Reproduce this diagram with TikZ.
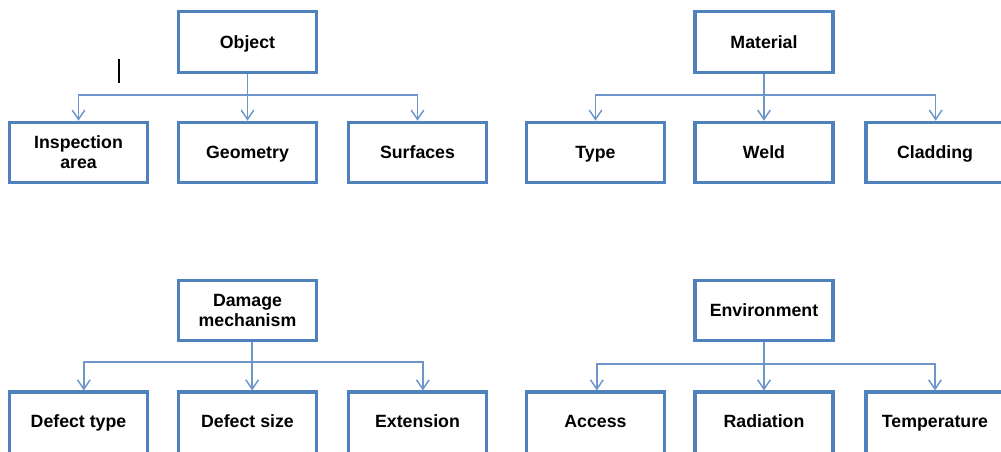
\documentclass[tikz,border=0pt]{standalone}
\usepackage{fontspec}
\setmainfont{Liberation Sans}
\usetikzlibrary{arrows.meta}
\definecolor{boxblue}{HTML}{4F81BD}
\definecolor{linkblue}{HTML}{6E96CB}
\tikzset{
  boxbase/.style={draw=boxblue, line width=2.3pt, fill=white, minimum width=103.5pt, minimum height=45.5pt,
    inner sep=1pt, align=center, font=\fontsize{13.3}{15}\selectfont\bfseries},
  box/.style={boxbase, text height=9.5pt, text depth=0pt},
  twobox/.style={boxbase},
  lowbox/.style={box, minimum height=48pt, text depth=4.5pt},
  link/.style={draw=linkblue, line width=1.1pt, -{Straight Barb[length=7pt,width=9.5pt,line width=1.1pt]}}
}
\begin{document}
\begin{tikzpicture}[x=0.75pt,y=-0.75pt]
\clip (0,0) rectangle (1001,452);
\fill[white] (0,0) rectangle (1001,452);
% top left
\node[box] (obj) at (247.5,42) {Object};
\node[twobox] (ia) at (78.5,152.5) {Inspection\\area};
\node[box] (geo) at (247.5,152.5) {Geometry};
\node[box] (sur) at (417.5,152.5) {Surfaces};
\coordinate (busA) at (0,95);
\draw[link] (obj.south) -- (obj.south |- busA) -| (ia.north);
\draw[link] (obj.south) -- (geo.north);
\draw[link] (obj.south) -- (obj.south |- busA) -| (sur.north);
% top right
\node[box] (mat) at (764,42) {Material};
\node[box] (typ) at (595.5,152.5) {Type};
\node[box] (wel) at (764,152.5) {Weld};
\node[box] (cla) at (935,152.5) {Cladding};
\coordinate (busB) at (0,95);
\draw[link] (mat.south) -- (mat.south |- busB) -| (typ.north);
\draw[link] (mat.south) -- (wel.north);
\draw[link] (mat.south) -- (mat.south |- busB) -| ([xshift=0.5pt]cla.north);
% bottom left
\node[twobox] (dam) at (247.5,310.5) {Damage\\mechanism};
\node[lowbox] (dty) at (78.5,424) {Defect type};
\node[lowbox] (dsz) at (247.5,424) {Defect size};
\node[lowbox] (ext) at (417.5,424) {Extension};
\coordinate (busC) at (0,362);
\draw[link] ([xshift=3.5pt]dam.south) -- ([xshift=3.5pt]dam.south |- busC) -| ([xshift=4pt]dty.north);
\draw[link] ([xshift=3.5pt]dam.south) -- ([xshift=3.5pt]dsz.north);
\draw[link] ([xshift=3.5pt]dam.south) -- ([xshift=3.5pt]dam.south |- busC) -| ([xshift=4pt]ext.north);
% bottom right
\node[box] (env) at (764,310.5) {Environment};
\node[lowbox] (acc) at (595.5,424) {Access};
\node[lowbox] (rad) at (764,424) {Radiation};
\node[lowbox] (tem) at (935,424) {Temperature};
\coordinate (busD) at (0,364);
\draw[link] (env.south) -- (env.south |- busD) -| ([xshift=1pt]acc.north);
\draw[link] (env.south) -- (rad.north);
\draw[link] (env.south) -- (env.south |- busD) -| (tem.north);
% stray cursor mark
\coordinate (curTop) at (119,59);
\coordinate (curBot) at (119,83);
\draw[black, line width=1.5pt] (curTop) -- (curBot);
\end{tikzpicture}
\end{document}
